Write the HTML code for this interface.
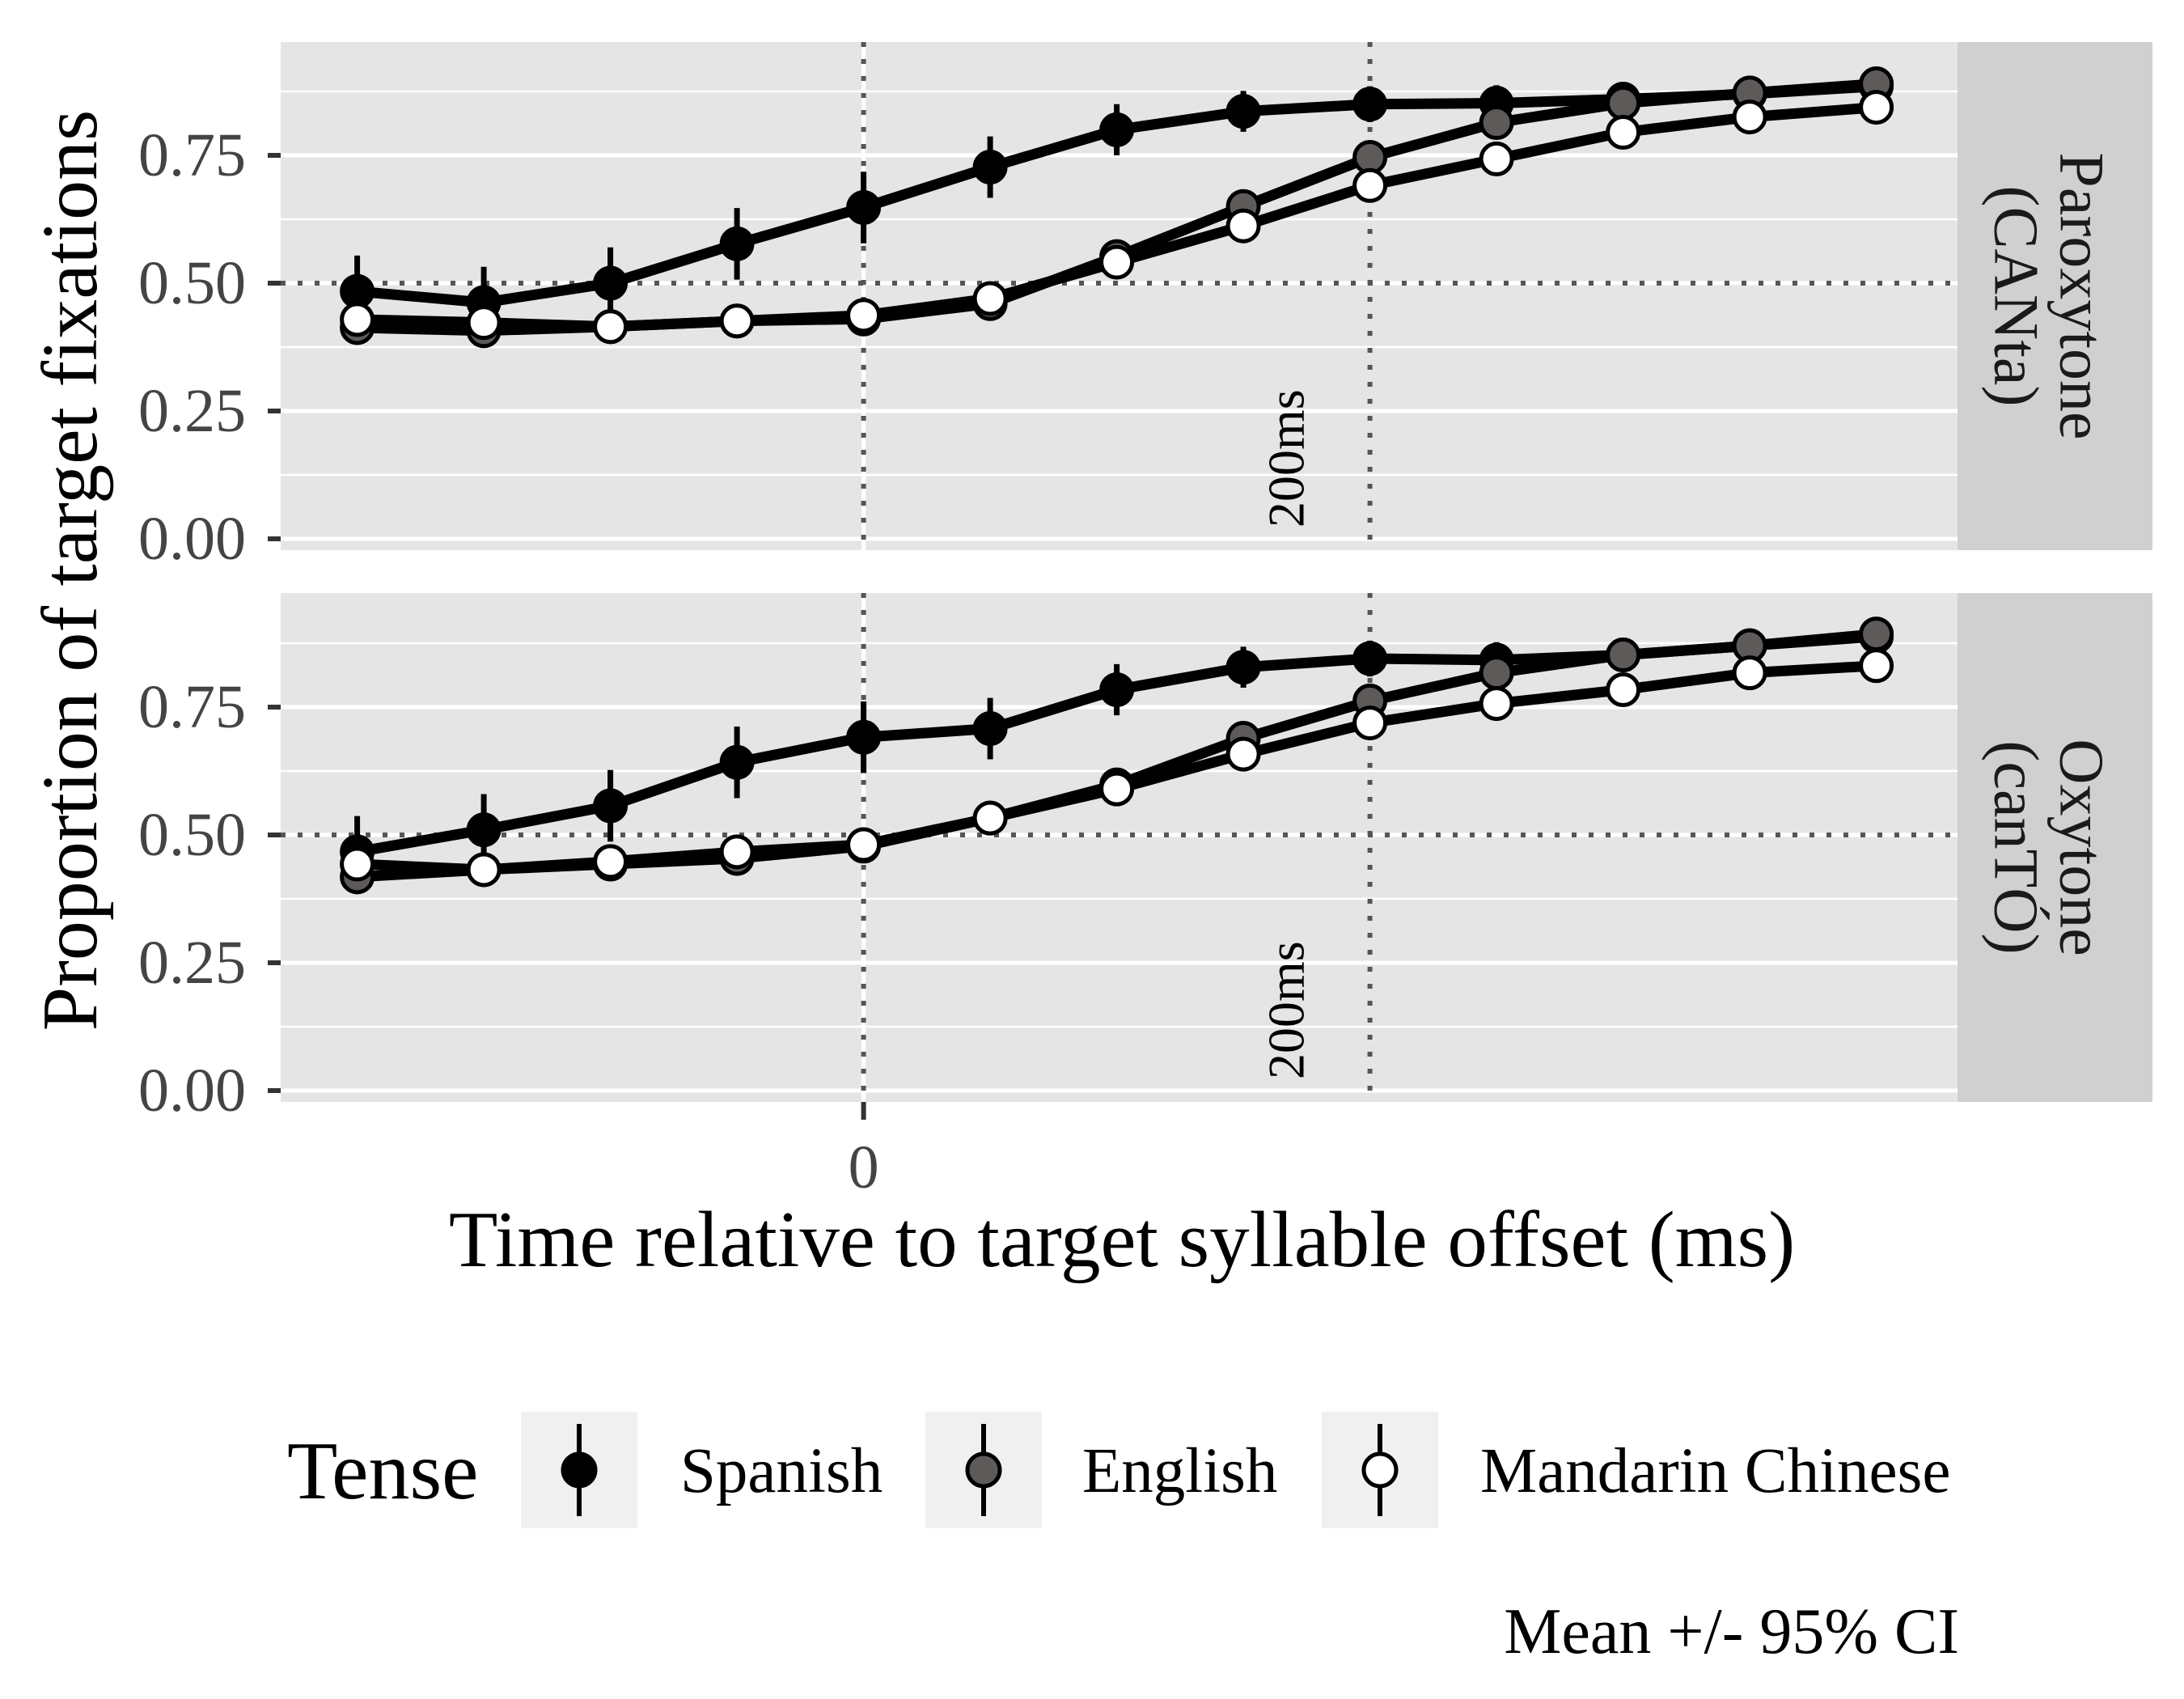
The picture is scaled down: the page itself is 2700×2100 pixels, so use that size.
<!DOCTYPE html>
<html><head><meta charset="utf-8"><style>
html,body{margin:0;padding:0;background:#fff}
svg{display:block;font-family:"Liberation Serif",serif}
</style></head><body>
<svg id="chart" width="2700" height="2100" viewBox="0 0 2700 2100" xmlns="http://www.w3.org/2000/svg">
<g id="panels"></g>
<text x="87" y="705" font-size="98" text-anchor="middle" transform="rotate(-90 87 705)" dominant-baseline="central">Proportion of target fixations</text>
<text x="1387" y="1565" font-size="99" text-anchor="middle">Time relative to target syllable offset (ms)</text>
<g>
<text x="355" y="1852" font-size="102">Tense</text>
<g>
<rect x="644" y="1745" width="144" height="144" fill="#f0f0f0"/>
<line x1="716" y1="1760" x2="716" y2="1874" stroke="#000" stroke-width="6"/>
<circle cx="716" cy="1817" r="20" fill="#000" stroke="#000" stroke-width="5"/>
<text x="841" y="1844" font-size="79">Spanish</text></g>
<g>
<rect x="1144" y="1745" width="144" height="144" fill="#f0f0f0"/>
<line x1="1216" y1="1760" x2="1216" y2="1874" stroke="#000" stroke-width="6"/>
<circle cx="1216" cy="1817" r="20" fill="#5e5a5a" stroke="#000" stroke-width="5"/>
<text x="1338" y="1844" font-size="79">English</text></g>
<g>
<rect x="1634" y="1745" width="144" height="144" fill="#f0f0f0"/>
<line x1="1706" y1="1760" x2="1706" y2="1874" stroke="#000" stroke-width="6"/>
<circle cx="1706" cy="1817" r="20" fill="#fff" stroke="#000" stroke-width="5"/>
<text x="1830" y="1844" font-size="79">Mandarin Chinese</text></g>
</g>
<text x="2422" y="2043" font-size="80" text-anchor="end">Mean +/- 95% CI</text>
</svg>
<script>
const times = [-200,-150,-100,-50,0,50,100,150,200,250,300,350,400];
const yTicks = [0,0.25,0.5,0.75];
const yTickLabels = ["0.00","0.25","0.50","0.75"];
const xTicks = [0];
const xTickLabels = ["0"];
const panelNames = ["Paroxytone","Oxytone"];
const panelSubs = ["(CANta)","(canTÓ)"];
const spanishP = [0.484,0.462,0.5,0.577,0.648,0.727,0.8,0.836,0.85,0.852,0.86,0.87,0.885];
const englishP = [0.413,0.407,0.415,0.426,0.43,0.46,0.552,0.65,0.746,0.814,0.852,0.872,0.89];
const mandarinP = [0.429,0.423,0.415,0.426,0.437,0.47,0.541,0.612,0.691,0.743,0.795,0.825,0.844];
const spanishO = [0.467,0.51,0.557,0.642,0.691,0.708,0.784,0.828,0.845,0.842,0.852,0.87,0.888];
const englishO = [0.418,0.432,0.443,0.454,0.478,0.533,0.598,0.689,0.762,0.817,0.852,0.87,0.893];
const mandarinO = [0.443,0.432,0.448,0.467,0.481,0.533,0.59,0.658,0.719,0.757,0.784,0.817,0.831];
const spanishCI = [0.07,0.07,0.07,0.07,0.07,0.06,0.05,0.04,0.035,0.035,0.03,0.025,0.02];
const otherCI = [0.03,0.03,0.03,0.03,0.03,0.03,0.03,0.03,0.03,0.03,0.03,0.03,0.03];
const refTimes = [0,200];
const refY = 0.5;

const NS="http://www.w3.org/2000/svg";
const PL=347, PR=2420, SR=2661;
const panelTops=[52,733], panelBots=[680,1362], zeroY=[666,1348], unit=632;
function xs(t){return 1067.6 + t*3.13;}
function mk(tag,attrs,parent){const e=document.createElementNS(NS,tag);for(const k in attrs)e.setAttribute(k,attrs[k]);parent.appendChild(e);return e;}
const root=document.getElementById('panels');
const series=[[spanishP,englishP,mandarinP],[spanishO,englishO,mandarinO]];
const fills=["#000","#5e5a5a","#fff"];
const names=["spanish","english","mandarin"];
for(let p=0;p<2;p++){
  const ys=v=>zeroY[p]-v*unit;
  const g=mk('g',{},root);
  
  
  const bg=mk('rect',{x:PL,y:panelTops[p],width:PR-PL,height:panelBots[p]-panelTops[p],fill:'#e5e5e5'},g);
  
  
  for(let i=0;i<yTicks.length;i++){
    const mv=yTicks[i]+0.125;
    const mn=mk('line',{x1:PL,x2:PR,y1:ys(mv),y2:ys(mv),stroke:'#fff','stroke-width':2.5},g);
    
    
  }
  yTicks.forEach((v,i)=>{
    const gl=mk('line',{x1:PL,x2:PR,y1:ys(v),y2:ys(v),stroke:'#fff','stroke-width':5},g);
    
    
    const tk=mk('line',{x1:331,x2:347,y1:ys(v),y2:ys(v),stroke:'#333','stroke-width':6},g);
    
    
    const tl=mk('text',{x:304,y:ys(v),'font-size':76,'text-anchor':'end','dominant-baseline':'central',fill:'#444'},g);
    tl.textContent=yTickLabels[i];
    
    
  });
  xTicks.forEach(t=>{
    const vg=mk('line',{x1:xs(t),x2:xs(t),y1:panelTops[p],y2:panelBots[p],stroke:'#fff','stroke-width':5},g);
    
    
  });
  refTimes.forEach(t=>{
    const rl=mk('line',{x1:xs(t),x2:xs(t),y1:panelTops[p],y2:panelBots[p],stroke:'#555','stroke-width':6,'stroke-dasharray':'6 15'},g);
    
    
  });
  const hl=mk('line',{x1:PL,x2:PR,y1:ys(refY),y2:ys(refY),stroke:'#555','stroke-width':6,'stroke-dasharray':'6 15'},g);
  
  
  const lx=1590, ly=panelBots[p]-28;
  const lab=mk('text',{x:lx,y:ly,'font-size':64,'dominant-baseline':'central',transform:`rotate(-90 ${lx} ${ly})`},g);
  lab.textContent='200ms';
  
  
  const st=mk('rect',{x:PR,y:panelTops[p],width:SR-PR,height:panelBots[p]-panelTops[p],fill:'#d0d0d0'},g);
  
  
  const cy=(panelTops[p]+panelBots[p])/2;
  const s1=mk('text',{x:2574,y:cy,'font-size':78,'text-anchor':'middle','dominant-baseline':'central',fill:'#1a1a1a',transform:`rotate(90 2574 ${cy})`},g);
  s1.textContent=panelNames[p];
  
  
  const s2=mk('text',{x:2493,y:cy,'font-size':78,'text-anchor':'middle','dominant-baseline':'central',fill:'#1a1a1a',transform:`rotate(90 2493 ${cy})`},g);
  s2.textContent=panelSubs[p];
  
  
  for(let s=0;s<3;s++){
    const vals=series[p][s];
    const ci=(s===0)?spanishCI:otherCI;
    const sg=mk('g',{},g);
    
    
    const pl=mk('polyline',{points:vals.map((v,i)=>xs(times[i])+','+ys(v)).join(' '),fill:'none',stroke:'#000','stroke-width':13,'stroke-linejoin':'round'},sg);
    
    
    vals.forEach((v,i)=>{
      const eb=mk('line',{x1:xs(times[i]),x2:xs(times[i]),y1:ys(v+ci[i]),y2:ys(v-ci[i]),stroke:'#000','stroke-width':7},sg);
      
      
    });
    vals.forEach((v,i)=>{
      const c=mk('circle',{cx:xs(times[i]),cy:ys(v),r:19,fill:fills[s],stroke:'#000','stroke-width':5},sg);
      
      
    });
  }
}
xTicks.forEach((t,i)=>{
  const tk=mk('line',{x1:xs(t),x2:xs(t),y1:1362,y2:1384,stroke:'#333','stroke-width':6},root);
  
  
  const tl=mk('text',{x:xs(t),y:1468,'font-size':76,'text-anchor':'middle',fill:'#444'},root);
  tl.textContent=xTickLabels[i];
  
  
});
</script>
</body></html>
